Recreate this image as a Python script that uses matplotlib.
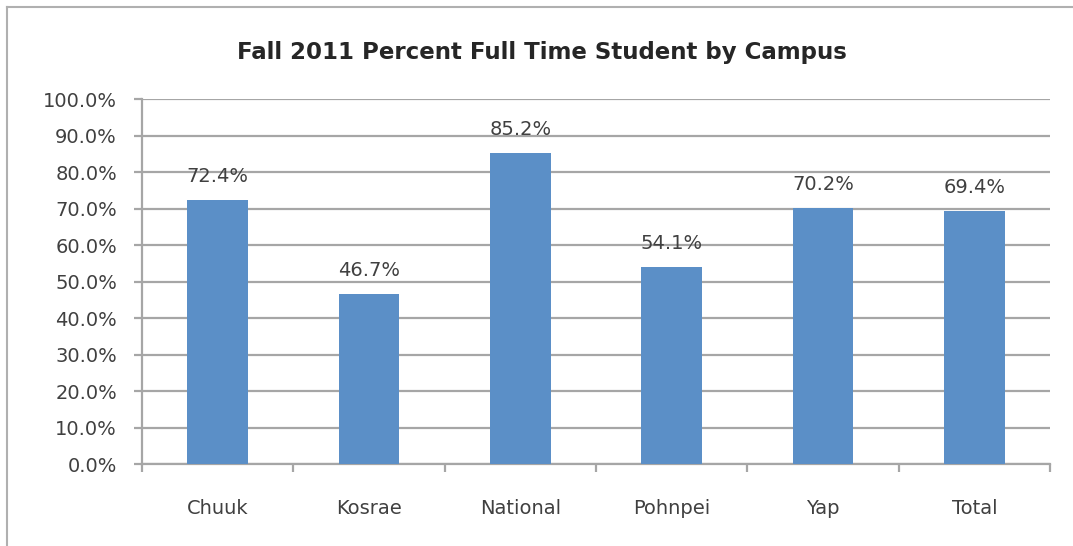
import matplotlib
matplotlib.use("Agg")
from matplotlib import pyplot as plt
from matplotlib.lines import Line2D
import numpy as np

campuses = ["Chuuk", "Kosrae", "National", "Pohnpei", "Yap", "Total"]
pct_full_time = [72.4, 46.7, 85.2, 54.1, 70.2, 69.4]
y_ticks = [0, 10, 20, 30, 40, 50, 60, 70, 80, 90, 100]

bar_color = "#5b8fc7"
grid_color = "#a6a6a6"
text_color = "#404040"

fig = plt.figure(figsize=(10.73, 5.46), dpi=100)
ax = fig.add_axes([0.1323, 0.150, 0.8463, 0.6683])

x = np.arange(len(campuses))
ax.bar(x, pct_full_time, width=0.4, color=bar_color, zorder=3)

# value labels over each bar
for xi, v in zip(x, pct_full_time):
    ax.annotate("{:.1f}%".format(v), (xi, v), xytext=(0, 10),
                textcoords="offset points", ha="center", va="bottom",
                fontsize=14, color=text_color)

ax.set_xlim(-0.5, len(campuses) - 0.5)
ax.set_ylim(0, 100)
ax.set_yticks(y_ticks)
ax.set_yticklabels(["{:.1f}%".format(t) for t in y_ticks])
ax.yaxis.grid(True, color=grid_color, linewidth=1.6, zorder=0)

# category labels centred, tick marks on the boundaries
ax.set_xticks(x)
ax.set_xticklabels(campuses)
ax.set_xticks(np.arange(len(campuses) + 1) - 0.5, minor=True)
ax.tick_params(axis="x", which="major", length=0, pad=25, labelsize=14,
               labelcolor=text_color)
ax.tick_params(axis="x", which="minor", length=6, width=1.6, color=grid_color)
ax.tick_params(axis="y", length=6, width=1.6, color=grid_color, pad=12,
               labelsize=14, labelcolor=text_color)

for side in ["top", "right"]:
    ax.spines[side].set_visible(False)
for side in ["left", "bottom"]:
    ax.spines[side].set_color(grid_color)
    ax.spines[side].set_linewidth(1.6)

fig.text(0.505, 0.903, "Fall 2011 Percent Full Time Student by Campus",
         ha="center", va="center", fontsize=16.5, fontweight="bold",
         color="#262626")

# chart frame (cut off at the right and bottom in the original)
fig.add_artist(Line2D([7 / 1073, 7 / 1073], [0, 1 - 7 / 546],
                      transform=fig.transFigure, color="#b0b0b0", linewidth=1.5))
fig.add_artist(Line2D([7 / 1073, 1], [1 - 7 / 546, 1 - 7 / 546],
                      transform=fig.transFigure, color="#b0b0b0", linewidth=1.5))

fig.savefig("out.png", dpi=100)
